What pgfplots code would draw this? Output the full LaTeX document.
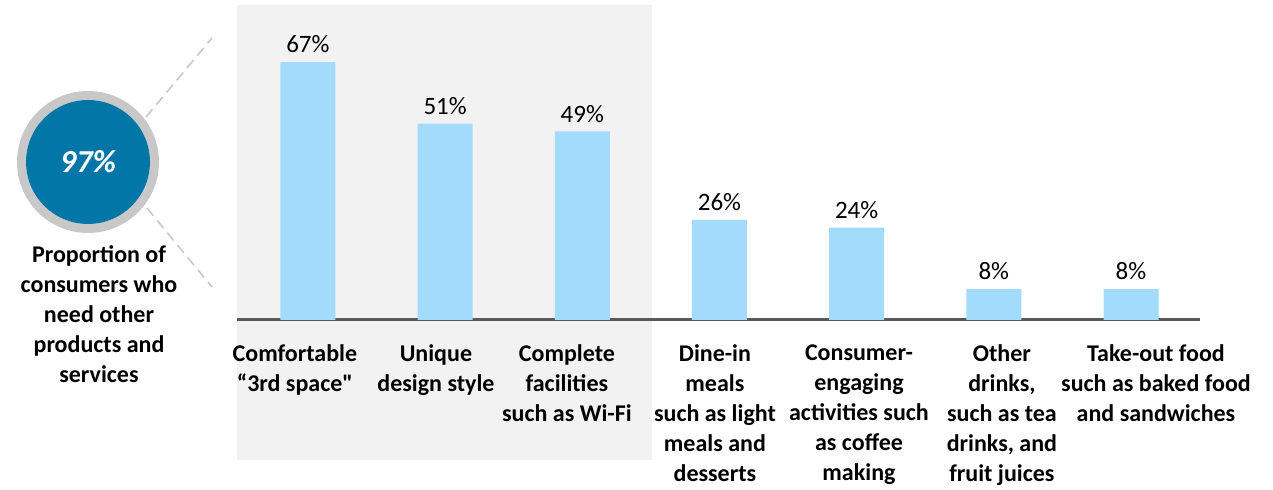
\documentclass[border=0pt]{standalone}
\usepackage{pgfplots}
\pgfplotsset{compat=1.18}
\usepackage{fontspec}
\setmainfont{Carlito}
\definecolor{barblue}{RGB}{163,219,252}
\definecolor{bggray}{RGB}{242,242,242}
\definecolor{ringgray}{RGB}{200,200,200}
\definecolor{circblue}{RGB}{3,118,168}
\definecolor{axisgray}{RGB}{89,89,89}
\begin{document}
\begin{tikzpicture}
% decorations in pixel units (1px = 0.5pt, y downwards)
\begin{scope}[x=0.5pt,y=-0.5pt]
\fill[bggray] (237,5) rectangle (652,460);
\draw[ringgray, line width=0.8pt, dash pattern=on 5pt off 3pt] (146,117) -- (212,38);
\draw[ringgray, line width=0.8pt, dash pattern=on 5pt off 3pt] (147,208) -- (212,287);
\draw[ringgray, line width=4.5pt] (88,162) circle[radius=66.5];
\fill[circblue] (88,162) circle[radius=62];
\node[white, font=\bfseries\itshape\fontsize{16}{18}\selectfont] at (88,162) {97\%};
\node[align=center, anchor=north, font=\bfseries\fontsize{12}{15}\selectfont]
  at (99,239) {Proportion of\\consumers who\\need other\\products and\\services};
\end{scope}
\begin{axis}[
  at={(118.5pt,-160pt)}, anchor=south west,
  scale only axis, width=481.5pt, height=154pt,
  xmin=-0.517, xmax=6.503, ymin=0, ymax=80,
  axis x line=bottom, axis y line=none,
  x axis line style={-, draw=axisgray, line width=1.5pt},
  ytick=\empty,
  % label cells sit slightly off the bar centres in the original
  xtick={-0.095,0.933,1.888,2.967,4.017,5.059,6.182}, xtick style={draw=none},
  xticklabels={{Comfortable\\“3rd space\textquotedbl},{Unique\\design style},{Complete\\facilities\\such as Wi-Fi},{Dine-in\\meals\\such as light\\meals and\\desserts},{Consumer-\\engaging\\activities such\\as coffee\\making},{Other\\drinks,\\such as tea\\drinks, and\\fruit juices},{Take-out food\\such as baked food\\and sandwiches}},
  xticklabel style={align=center, font=\bfseries\fontsize{12}{15}\selectfont, yshift=-4.5pt},
  /pgf/number format/assume math mode=true,
  ybar, bar width=27.5pt,
  nodes near coords={\pgfmathprintnumber{\pgfplotspointmeta}\%},
  every node near coord/.append style={font=\fontsize{12.5}{14}\selectfont, black, yshift=1pt},
  clip=false,
]
\addplot[fill=barblue, draw=none] coordinates {(0,67) (1,51) (2,49) (3,26) (4,24) (5,8) (6,8)};
\end{axis}
\pgfresetboundingbox
\path (0,0) rectangle (636.5pt,-245pt);
\end{tikzpicture}
\end{document}
